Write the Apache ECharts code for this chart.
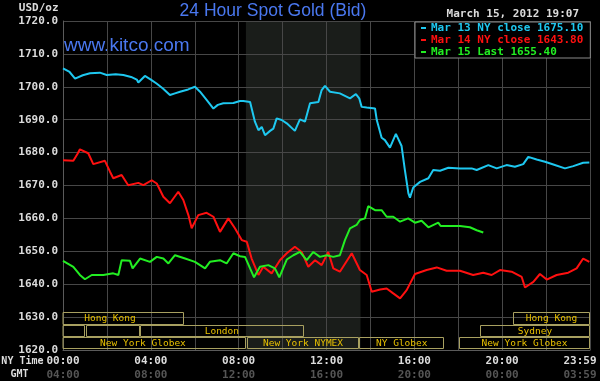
<!DOCTYPE html>
<html><head><meta charset="utf-8">
<script src="https://cdn.jsdelivr.net/npm/echarts/dist/echarts.min.js"></script>
<style>html,body{margin:0;padding:0;background:#000;}#chart{width:600px;height:381px;}</style>
</head><body><div id="chart"></div><script>
// ---- data (hours in NY time, price USD/oz) ----
const mar13Close = [[0,1705.6],[0.3,1704.5],[0.55,1702.5],[0.9,1703.5],[1.23,1704.1],[1.68,1704.3],[1.99,1703.6],[2.4,1703.8],[2.75,1703.6],[3.1,1703.0],[3.36,1702.2],[3.43,1701.3],[3.73,1703.3],[4.0,1702.2],[4.26,1701.0],[4.55,1699.5],[4.87,1697.5],[5.1,1698.0],[5.33,1698.5],[5.7,1699.2],[6.01,1700.0],[6.24,1698.5],[6.54,1696.0],[6.85,1693.4],[7.05,1694.5],[7.3,1695.0],[7.76,1695.1],[8.06,1695.7],[8.21,1695.7],[8.52,1695.4],[8.6,1696.0],[8.74,1689.4],[8.9,1686.8],[9.05,1687.8],[9.2,1685.3],[9.43,1686.6],[9.58,1687.3],[9.73,1690.4],[9.96,1689.9],[10.19,1688.9],[10.56,1686.6],[10.79,1690.1],[11.02,1689.4],[11.25,1695.0],[11.63,1695.4],[11.78,1699.0],[11.93,1700.3],[12.16,1698.5],[12.61,1698.0],[13.07,1696.5],[13.34,1697.8],[13.49,1696.5],[13.6,1693.9],[13.83,1693.7],[14.21,1693.4],[14.29,1689.9],[14.51,1684.5],[14.66,1683.8],[14.89,1681.5],[15.16,1685.7],[15.42,1682.0],[15.57,1674.7],[15.73,1667.6],[15.8,1666.3],[15.95,1669.4],[16.26,1671.1],[16.64,1672.2],[16.86,1674.7],[17.17,1674.5],[17.55,1675.4],[18.08,1675.2],[18.61,1675.2],[18.84,1674.7],[19.37,1676.2],[19.75,1675.2],[20.2,1676.2],[20.58,1675.7],[20.96,1676.5],[21.19,1678.7],[21.57,1677.9],[21.95,1677.2],[22.33,1676.4],[22.86,1675.2],[23.24,1675.9],[23.69,1676.9],[23.97,1677.0]];
const mar14Close = [[0,1677.7],[0.47,1677.5],[0.65,1679.5],[0.77,1681.0],[1.15,1679.8],[1.38,1676.5],[1.91,1677.5],[2.14,1674.2],[2.29,1672.2],[2.67,1673.2],[2.97,1670.1],[3.43,1670.8],[3.66,1670.1],[4.04,1671.6],[4.27,1670.6],[4.57,1666.6],[4.87,1664.6],[5.25,1668.1],[5.48,1665.6],[5.71,1661.0],[5.86,1657.0],[6.16,1661.0],[6.54,1661.7],[6.85,1660.5],[7.15,1655.9],[7.53,1660.0],[7.83,1657.0],[8.14,1653.4],[8.37,1652.9],[8.59,1647.8],[8.9,1642.8],[9.12,1645.3],[9.5,1643.3],[9.88,1647.3],[10.19,1649.4],[10.56,1651.4],[10.87,1649.8],[11.17,1645.3],[11.48,1647.3],[11.78,1645.8],[12.08,1649.8],[12.31,1644.8],[12.61,1643.8],[13.15,1649.4],[13.45,1645.3],[13.52,1644.3],[13.83,1642.8],[14.06,1637.7],[14.44,1638.4],[14.74,1638.7],[15.04,1637.2],[15.35,1635.7],[15.65,1638.2],[16.03,1643.1],[16.56,1644.3],[17.02,1645.1],[17.47,1644.1],[18.08,1644.1],[18.68,1642.8],[19.14,1643.5],[19.52,1642.8],[19.9,1644.3],[20.43,1643.8],[20.89,1642.2],[21.04,1639.0],[21.42,1640.7],[21.72,1643.1],[22.03,1641.4],[22.48,1642.8],[23.01,1643.5],[23.39,1644.8],[23.69,1647.8],[23.97,1646.8]];
const mar15Last = [[0,1647.1],[0.47,1645.3],[0.77,1642.8],[1.0,1641.5],[1.31,1642.8],[1.84,1642.8],[2.29,1643.3],[2.52,1642.8],[2.67,1647.3],[3.05,1647.1],[3.17,1644.8],[3.51,1647.8],[3.96,1646.8],[4.27,1648.3],[4.57,1647.8],[4.8,1646.3],[5.1,1648.8],[5.56,1647.8],[6.01,1646.8],[6.47,1644.8],[6.69,1646.8],[7.15,1647.3],[7.45,1646.3],[7.76,1649.4],[8.06,1648.5],[8.29,1648.3],[8.52,1644.8],[8.7,1642.1],[8.97,1645.3],[9.35,1645.8],[9.65,1644.8],[9.85,1642.1],[10.19,1647.5],[10.49,1648.8],[10.79,1649.8],[11.1,1647.3],[11.4,1649.8],[11.7,1648.3],[12.01,1648.8],[12.31,1648.3],[12.61,1648.8],[12.84,1653.4],[13.07,1657.0],[13.37,1658.0],[13.52,1659.5],[13.75,1660.0],[13.9,1663.7],[14.21,1662.5],[14.51,1662.5],[14.74,1660.5],[15.04,1660.5],[15.35,1659.0],[15.72,1660.0],[16.03,1658.7],[16.33,1659.3],[16.64,1657.3],[17.09,1658.7],[17.2,1657.7],[17.62,1657.7],[18.08,1657.7],[18.53,1657.3],[18.84,1656.4],[19.14,1655.7]];
const legendLabels = ['Mar 13 NY close 1675.10', 'Mar 14 NY close 1643.80', 'Mar 15 Last 1655.40'];
const nyTimeLabels = ['00:00','04:00','08:00','12:00','16:00','20:00','23:59'];
const gmtLabels = ['04:00','08:00','12:00','16:00','20:00','00:00','03:59'];
const nymexShade = [8.33, 13.55];
const sessionNames = ['Hong Kong', '', '', 'London', 'New York Globex', 'New York NYMEX', 'NY Globex', 'New York Globex', 'Sydney', 'Hong Kong'];
const sessionStart = [-1.22, -1.0, 1.05, 3.5, -1.05, 8.37, 13.5, 18.03, 18.99, 20.5];
const sessionEnd   = [5.5, 1.0, 3.5, 10.97, 8.33, 13.49, 17.35, 24, 24, 24];
const sessionRow   = [0, 1, 1, 1, 2, 2, 2, 2, 1, 0];

// ---- styles ----
const MONO = '"DejaVu Sans Mono", "Liberation Mono", monospace';
const SANS = '"Liberation Sans", Arial, sans-serif';
const COLORS = ['#1ec8f0', '#ff1010', '#22ee22'];
const ROWS = [[1631.4, 1627.75], [1627.75, 1624.0], [1623.9, 1620.35]];

const chart = echarts.init(document.getElementById('chart'), null, {renderer: 'canvas'});

const lineSeries = [mar13Close, mar14Close, mar15Last].map((d, i) => ({
  type: 'line', name: legendLabels[i], data: d, showSymbol: false, symbol: 'none',
  lineStyle: {width: 2, color: COLORS[i]}, itemStyle: {color: COLORS[i]}, z: 3 + i, silent: true
}));

const option = {
  backgroundColor: '#000',
  animation: false,
  grid: {left: 63, right: 10, top: 21, bottom: 31, containLabel: false, outerBoundsMode: 'none'},
  xAxis: {
    type: 'value', min: 0, max: 24, interval: 2,
    axisLine: {show: true, lineStyle: {color: '#5a5a5a'}},
    axisTick: {show: false},
    splitLine: {show: true, lineStyle: {color: '#474747', width: 1}},
    axisLabel: {
      margin: 4, showMinLabel: true, showMaxLabel: true, hideOverlap: false,
      formatter: function (v) {
        if (v % 4 !== 0) return '';
        const i = v / 4;
        const last = i === nyTimeLabels.length - 1;
        return '{' + (last ? 'aR' : 'a') + '|' + nyTimeLabels[i] + '}\n{' + (last ? 'bR' : 'b') + '|' + gmtLabels[i] + '}';
      },
      rich: {
        a: {color: '#dcdcdc', fontFamily: MONO, fontWeight: 'bold', fontSize: 11, lineHeight: 14},
        b: {color: '#555555', fontFamily: MONO, fontWeight: 'bold', fontSize: 11, lineHeight: 14},
        aR: {color: '#dcdcdc', fontFamily: MONO, fontWeight: 'bold', fontSize: 11, lineHeight: 14, padding: [0, 20, 0, 0]},
        bR: {color: '#555555', fontFamily: MONO, fontWeight: 'bold', fontSize: 11, lineHeight: 14, padding: [0, 20, 0, 0]}
      }
    }
  },
  yAxis: {
    type: 'value', min: 1620, max: 1720, interval: 10,
    axisLine: {show: true, lineStyle: {color: '#5a5a5a'}},
    axisTick: {show: false},
    splitLine: {show: true, lineStyle: {color: '#474747', width: 1}},
    axisLabel: {margin: 5, color: '#dcdcdc', fontFamily: MONO, fontWeight: 'bold', fontSize: 11,
      formatter: v => v.toFixed(1)}
  },
  legend: {
    orient: 'vertical', left: 415, top: 22, padding: [0, 7, 0, 6], itemGap: 0,
    itemWidth: 5, itemHeight: 2, icon: 'rect', selectedMode: false,
    backgroundColor: '#000', borderColor: '#8a8a8a', borderWidth: 1,
    textStyle: {fontFamily: MONO, fontWeight: 'bold', fontSize: 11, lineHeight: 12},
    data: legendLabels.map((n, i) => ({name: n, textStyle: {color: COLORS[i]}, itemStyle: {color: COLORS[i]}}))
  },
  graphic: [
    {type: 'text', x: 273, y: 11, silent: true, style: {text: '24 Hour Spot Gold (Bid)', fill: '#4a78f0', font: '17.5px ' + SANS, align: 'center', verticalAlign: 'middle'}},
    {type: 'text', x: 64, y: 46, silent: true, style: {text: 'www.kitco.com', fill: '#4a78f0', font: '19px ' + SANS, align: 'left', verticalAlign: 'middle'}},
    {type: 'text', x: 58.5, y: 8, silent: true, style: {text: 'USD/oz', fill: '#dcdcdc', font: 'bold 11px ' + MONO, align: 'right', verticalAlign: 'middle'}},
    {type: 'text', x: 579, y: 14, silent: true, style: {text: 'March 15, 2012 19:07', fill: '#dcdcdc', font: 'bold 11px ' + MONO, align: 'right', verticalAlign: 'middle'}},
    {type: 'text', x: 43.5, y: 361, silent: true, style: {text: 'NY Time', fill: '#dcdcdc', font: 'bold 10px ' + MONO, align: 'right', verticalAlign: 'middle'}},
    {type: 'text', x: 19.5, y: 374, silent: true, style: {text: 'GMT', fill: '#dcdcdc', font: 'bold 10px ' + MONO, align: 'center', verticalAlign: 'middle'}}
  ],
  series: [
    {
      type: 'custom', name: 'nymexShade', z: -1, silent: true,
      data: [[nymexShade[0], nymexShade[1]]],
      renderItem: function (params, api) {
        const a = api.coord([api.value(0), 1720]);
        const b = api.coord([api.value(1), 1620]);
        return {type: 'rect', shape: {x: a[0], y: a[1], width: b[0] - a[0], height: b[1] - a[1]}, style: {fill: '#1a1d1a'}};
      }
    },
    ...lineSeries,
    {
      type: 'custom', name: 'sessions', z: 6, silent: true,
      data: sessionNames.map((n, i) => [sessionStart[i], sessionEnd[i], sessionRow[i]]),
      renderItem: function (params, api) {
        const s = api.value(0), e = api.value(1), r = api.value(2);
        const name = sessionNames[params.dataIndex];
        const p1 = api.coord([s, ROWS[r][0]]);
        const p2 = api.coord([e, ROWS[r][1]]);
        const cs = params.coordSys;
        const x1 = Math.round(p1[0]) + 0.5, y1 = Math.round(p1[1]) + 0.5;
        const x2 = Math.round(p2[0]) - 0.5, y2 = Math.round(p2[1]) - 0.5;
        const shape = echarts.graphic.clipRectByRect(
          {x: x1, y: y1, width: x2 - x1, height: y2 - y1},
          {x: cs.x, y: cs.y - 1, width: cs.width + 1, height: cs.height + 2});
        const children = [];
        if (shape) children.push({type: 'rect', shape: shape, style: {fill: 'none', stroke: '#a8a060', lineWidth: 1}});
        if (name) children.push({type: 'text', x: (p1[0] + p2[0]) / 2, y: (p1[1] + p2[1]) / 2 + 0.5,
          style: {text: name, fill: '#e8c000', font: '9.5px ' + MONO, align: 'center', verticalAlign: 'middle'}});
        return {type: 'group', children: children};
      }
    }
  ]
};
chart.setOption(option);
</script></body></html>
